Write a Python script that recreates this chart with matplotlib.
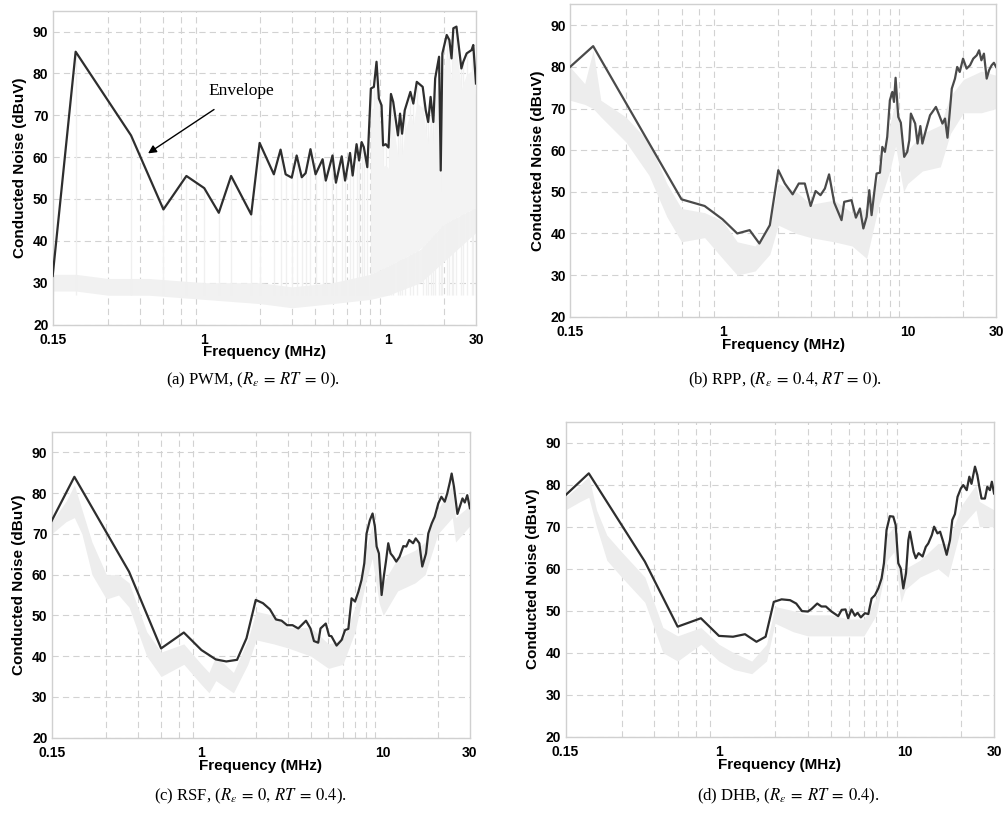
import numpy as np
import matplotlib
matplotlib.use("Agg")
import matplotlib.pyplot as plt
from matplotlib.ticker import FixedLocator, NullFormatter

plt.rcParams['font.family'] = ['Liberation Sans', 'DejaVu Sans']
plt.rcParams['mathtext.fontset'] = 'stix'
plt.rcParams['lines.scale_dashes'] = False

# ---------------- data ----------------
# (a) PWM envelope
freq_a = [0.15, 0.2, 0.4, 0.6, 0.8, 1.0, 1.2, 1.4, 1.8, 2.0, 2.39, 2.6, 2.77, 2.99, 3.18, 3.39, 3.56, 3.78,
          4.03, 4.4, 4.58, 4.98, 5.2, 5.59, 5.83, 6.2, 6.41, 6.73, 6.95, 7.17, 7.37, 7.7, 8.05, 8.36, 8.64,
          8.9, 9.2, 9.38, 9.7, 10.04, 10.35, 10.65, 11.3, 11.6, 11.9, 12.3, 13.2, 13.7, 14.3, 15.4, 16.0,
          16.5, 17.0, 17.6, 18.0, 18.9, 19.3, 19.7, 20.8, 21.5, 22.1, 22.6, 23.5, 25.0, 25.6, 26.7, 28.4,
          29.0, 30.0]
env_a = [31.6, 85.2, 65.2, 47.5, 55.5, 52.6, 46.7, 55.5, 46.3, 63.4, 55.9, 61.8, 55.9, 55.1, 60.4, 55.2, 56.2,
         61.9, 55.9, 59.5, 54.4, 60.4, 53.9, 60.2, 54.4, 61.0, 55.6, 63.1, 59.2, 63.6, 62.4, 57.6, 76.4, 76.8,
         82.8, 74.0, 72.4, 62.8, 63.1, 62.3, 75.1, 73.2, 65.2, 70.4, 65.6, 71.2, 75.6, 72.8, 78.0, 76.8, 71.2,
         68.4, 74.4, 68.4, 78.8, 84.0, 56.8, 84.8, 89.2, 88.0, 83.6, 90.8, 91.2, 81.2, 82.8, 84.8, 85.6, 86.8,
         77.6]
gray_f_a = [0.15, 0.2, 0.3, 0.5, 1.0, 2.0, 3.0, 5.0, 8.0, 10.0, 15.0, 20.0, 30.0]
gray_lo_a = [28, 28, 27, 27, 26, 25, 24, 25, 26, 27, 30, 35, 42]
gray_hi_a = [32, 32, 31, 31, 30, 30, 29, 30, 32, 34, 38, 44, 48]

# (b) RPP envelope
freq_b = [0.15, 0.2, 0.6, 0.8, 1.0, 1.2, 1.4, 1.58, 1.8, 2.0, 2.17, 2.39, 2.58, 2.78, 2.99, 3.18, 3.38, 3.57,
          3.76, 4.01, 4.39, 4.54, 4.97, 5.25, 5.52, 5.76, 6.0, 6.2, 6.38, 6.65, 6.79, 7.08, 7.29, 7.53, 7.75,
          8.01, 8.26, 8.43, 8.6, 8.89, 9.18, 9.57, 9.94, 10.2, 10.4, 10.97, 11.3, 11.7, 12.0, 12.6, 13.2,
          13.6, 14.2, 14.8, 15.4, 15.9, 16.4, 16.9, 17.3, 18.0, 18.5, 19.1, 19.9, 20.8, 21.7, 22.6, 23.6,
          24.3, 25.0, 25.8, 26.7, 27.5, 28.4, 29.2, 30.0]
env_b = [80, 85, 48.2, 46.6, 43.4, 40, 40.8, 37.6, 42, 55.2, 52, 49.4, 52, 52, 46.6, 50.2, 49.2, 50.8,
         54.2, 47.4, 43.2, 47.6, 48, 43.8, 46, 41.2, 44, 50.4, 44.4, 51.2, 54.4, 54.6, 60.8, 59.6, 63.2,
         72, 74, 71.6, 77.4, 68, 66.6, 58.4, 59.6, 62.4, 68.8, 66.4, 61.6, 65.8, 61.6, 65.2, 68.4,
         69.2, 70.4, 68.4, 66.4, 67.6, 63, 69.6, 74.8, 77.2, 80, 78.8, 82, 79.6, 80.4, 82, 82.8,
         84, 81.6, 83.2, 77.2, 79.2, 80.4, 81, 80]
gray_f_b = [0.15, 0.18, 0.2, 0.22, 0.3, 0.4, 0.5, 0.6, 0.8, 1.0, 1.2, 1.5, 1.8, 2.0, 2.5, 3.0, 4.0, 5.0,
            6.0, 7.0, 8.0, 8.6, 9.5, 10.0, 12.0, 15.0, 17.0, 20.0, 25.0, 30.0]
gray_lo_b = [72, 71, 70, 68, 62, 54, 44, 38, 39, 34, 30, 31, 35, 42, 40, 39, 38, 37,
             34, 47, 55, 61, 50, 52, 55, 56, 64, 69, 69, 70]
gray_hi_b = [80, 76, 84, 72, 68, 62, 52, 46, 45, 43, 38, 37, 42, 52, 50, 47, 48, 45,
             46, 54, 66, 72, 60, 60, 64, 66, 73, 77, 79, 78]

# (c) RSF envelope
freq_c = [0.15, 0.2, 0.4, 0.6, 0.8, 1.0, 1.2, 1.37, 1.57, 1.77, 1.99, 2.18, 2.38, 2.57, 2.76, 2.96, 3.17,
          3.41, 3.76, 3.98, 4.16, 4.39, 4.52, 4.83, 5.04, 5.19, 5.54, 5.91, 6.17, 6.43, 6.7, 7.0, 7.3, 7.6,
          7.87, 8.1, 8.45, 8.74, 9.0, 9.2, 9.47, 9.8, 10.1, 10.35, 10.66, 10.98, 11.35, 11.8, 12.3, 12.9,
          13.4, 13.9, 14.6, 15.1, 15.8, 16.4, 17.2, 17.7, 18.5, 19.2, 20.1, 20.9, 21.8, 22.5, 23.3, 23.8,
          24.5, 25.6, 26.4, 27.3, 28.1, 29.0, 30.0]
env_c = [73.2, 84.0, 60.7, 41.9, 45.8, 41.5, 39.2, 38.7, 39.1, 44.4, 53.8, 53.0, 51.5, 49.0, 48.7, 47.6, 47.6,
         46.8, 48.7, 46.8, 43.7, 43.3, 46.8, 48.0, 45.0, 44.9, 42.6, 44.0, 46.4, 46.7, 54.2, 53.4, 55.8, 58.7,
         62.8, 70.1, 73.4, 75.0, 71.8, 66.9, 65.2, 55.0, 59.9, 63.2, 67.7, 65.2, 64.4, 63.2, 64.4, 67.0,
         66.9, 68.5, 67.7, 68.9, 67.7, 62.0, 65.2, 70.1, 72.6, 74.2, 77.5, 79.1, 77.9, 79.9, 82.8, 84.8,
         81.6, 74.9, 76.7, 78.7, 77.7, 79.5, 76.3]
gray_f_c = [0.15, 0.18, 0.2, 0.22, 0.25, 0.3, 0.35, 0.4, 0.5, 0.6, 0.8, 1.0, 1.1, 1.2, 1.5, 1.8, 2.0, 2.5,
            3.0, 4.0, 5.0, 6.0, 7.0, 8.0, 8.7, 9.5, 10.0, 12.0, 15.0, 17.0, 20.0, 24.0, 25.0, 30.0]
gray_lo_c = [70, 73, 74, 70, 60, 54, 55, 52, 40, 35, 38, 33, 31, 34, 31, 38, 44, 43,
             42, 40, 37, 38, 46, 58, 64, 53, 50, 56, 58, 60, 70, 74, 68, 72]
gray_hi_c = [73, 78, 82, 76, 68, 60, 60, 58, 46, 41, 43, 38, 36, 40, 36, 44, 51, 50,
             47, 47, 43, 44, 52, 66, 72, 62, 58, 64, 66, 68, 76, 82, 74, 77]

# (d) DHB envelope
freq_d = [0.15, 0.2, 0.4, 0.6, 0.8, 1.0, 1.19, 1.38, 1.59, 1.78, 1.97, 2.17, 2.41, 2.6, 2.79, 3.0, 3.14,
          3.37, 3.55, 3.75, 4.02, 4.37, 4.56, 4.78, 4.94, 5.15, 5.37, 5.55, 5.78, 6.08, 6.34, 6.6, 6.88,
          7.17, 7.47, 7.69, 7.94, 8.27, 8.63, 8.89, 9.18, 9.46, 9.77, 10.1, 10.4, 10.6, 11.1, 11.4, 11.8,
          12.4, 12.9, 13.3, 13.9, 14.3, 14.9, 15.4, 16.0, 16.7, 17.4, 17.9, 18.5, 19.1, 19.9, 20.5, 21.4,
          22.1, 22.7, 23.7, 24.4, 25.0, 25.7, 26.8, 27.6, 28.5, 29.2, 30.0]
env_d = [77.5, 82.7, 61.7, 46.2, 48.2, 44.0, 43.8, 44.4, 42.6, 43.8, 52.1, 52.7, 52.5, 51.7, 49.9, 49.8, 50.4,
         51.7, 51.0, 51.0, 49.8, 48.7, 50.2, 50.3, 48.2, 50.3, 48.8, 49.5, 48.4, 49.4, 49.2, 52.9, 53.7,
         55.3, 57.7, 61.3, 69.2, 72.5, 72.4, 70.4, 61.3, 60.1, 55.3, 58.9, 66.8, 68.8, 64.0, 62.5, 63.7,
         62.9, 65.2, 66.0, 68.0, 70.0, 68.4, 68.8, 66.4, 63.3, 66.8, 71.6, 73.0, 77.1, 79.1, 79.9, 78.7,
         81.9, 80.2, 84.3, 82.3, 79.5, 76.7, 76.7, 79.5, 78.7, 80.7, 77.9]
gray_f_d = [0.15, 0.18, 0.2, 0.22, 0.25, 0.3, 0.4, 0.5, 0.6, 0.8, 1.0, 1.2, 1.5, 1.8, 2.0, 2.5, 3.0, 4.0,
            5.0, 6.0, 7.0, 8.0, 8.7, 9.5, 10.0, 12.0, 15.0, 17.0, 20.0, 24.0, 25.0, 30.0]
gray_lo_d = [74, 76, 77, 70, 62, 58, 52, 40, 38, 42, 38, 36, 35, 38, 47, 45, 44, 44,
             44, 44, 49, 62, 64, 52, 55, 58, 60, 58, 70, 74, 70, 70]
gray_hi_d = [77, 80, 82, 74, 68, 64, 58, 46, 44, 46, 42, 40, 38, 42, 51, 50, 49, 49,
             48, 48, 53, 68, 70, 58, 60, 62, 66, 66, 75, 80, 76, 74]

xtick_vals = [0.15, 1, 10, 30]
xtick_labels_a = ['0.15', '1', '1', '30']
xtick_labels = ['0.15', '1', '10', '30']
grid_x = [0.3, 0.45, 0.6, 0.75, 0.9, 1, 2, 3, 4, 5, 6, 7, 8, 9, 10, 20]
ytick_vals = [20, 30, 40, 50, 60, 70, 80, 90]

captions = [r'(a) PWM, ($R_\varepsilon\:=\:RT\:=\:0$).',
            r'(b) RPP, ($R_\varepsilon\:=\:0.4,\,RT\:=\:0$).',
            r'(c) RSF, ($R_\varepsilon\:=\:0,\,RT\:=\:0.4$).',
            r'(d) DHB, ($R_\varepsilon\:=\:RT\:=\:0.4$).']

# ---------------- figure ----------------
fig = plt.figure(figsize=(10.05, 8.18), dpi=100)

rects = [(0.0524, 0.6033, 0.4212, 0.3836),
         (0.5672, 0.6128, 0.4239, 0.3817),
         (0.0514, 0.0982, 0.4162, 0.3737),
         (0.5627, 0.0994, 0.4264, 0.3851)]

GRAY = '#ededed'
grid_kw = dict(color='#d2d2d2', linestyle=(0, (4.5, 3.0)), linewidth=0.8)


def style_axes(ax, labels):
    ax.set_xscale('log')
    ax.set_xlim(0.15, 30)
    ax.set_ylim(20, 95)
    ax.xaxis.set_major_locator(FixedLocator(xtick_vals))
    ax.set_xticklabels(labels)
    ax.xaxis.set_minor_locator(FixedLocator(grid_x))
    ax.xaxis.set_minor_formatter(NullFormatter())
    ax.set_yticks(ytick_vals)
    ax.grid(False)
    ax.grid(True, which='minor', axis='x', **grid_kw)
    ax.grid(True, which='major', axis='y', **grid_kw)
    ax.tick_params(which='both', length=0, labelsize=10)
    ax.tick_params(axis='x', pad=6)
    ax.tick_params(axis='y', pad=3)
    for lab in ax.get_xticklabels() + ax.get_yticklabels():
        lab.set_fontweight('bold')
    for sp in ax.spines.values():
        sp.set_color('#d0d0d0')
        sp.set_linewidth(1.0)
    ax.set_xlabel('Frequency (MHz)', fontsize=11, fontweight='bold', labelpad=-1)
    ax.set_ylabel('Conducted Noise (dBuV)', fontsize=11, fontweight='bold', labelpad=4)
    ax.set_axisbelow(True)


axes = [fig.add_axes(r) for r in rects]

# (a)
ax = axes[0]
style_axes(ax, xtick_labels_a)
ax.fill_between(gray_f_a, gray_lo_a, gray_hi_a, color='#f1f1f1', lw=0, zorder=1)
ax.vlines(freq_a, 27, env_a, color='#f0f0f0', lw=1.0, zorder=1)
fa = np.array(freq_a)
ea = np.array(env_a)
m = fa >= 8
ax.fill_between(fa[m], np.interp(np.log(fa[m]), np.log(gray_f_a), gray_hi_a), ea[m] - 5,
                color='#f3f3f3', lw=0, zorder=1)
ax.plot(freq_a, env_a, color='#2e2e2e', lw=1.6, zorder=3)
ax.annotate('Envelope', xy=(0.495, 60.9), xytext=(1.6, 75.8),
            fontsize=12.5, family=['Liberation Serif', 'DejaVu Serif'],
            ha='center', va='center',
            arrowprops=dict(arrowstyle='-|>', color='black', lw=1.0,
                            mutation_scale=12, shrinkA=10, shrinkB=0))

# (b)
ax = axes[1]
style_axes(ax, xtick_labels)
ax.fill_between(gray_f_b, gray_lo_b, gray_hi_b, color=GRAY, lw=0, zorder=1)
ax.plot(freq_b, env_b, color='#4a4a4a', lw=1.6, zorder=3)

# (c)
ax = axes[2]
style_axes(ax, xtick_labels)
ax.fill_between(gray_f_c, gray_lo_c, gray_hi_c, color=GRAY, lw=0, zorder=1)
ax.plot(freq_c, env_c, color='#2e2e2e', lw=1.6, zorder=3)

# (d)
ax = axes[3]
style_axes(ax, xtick_labels)
ax.fill_between(gray_f_d, gray_lo_d, gray_hi_d, color=GRAY, lw=0, zorder=1)
ax.plot(freq_d, env_d, color='#2e2e2e', lw=1.6, zorder=3)

cap_pos = [(253 / 1005, 1 - 380 / 818), (785 / 1005, 1 - 380 / 818),
           (250 / 1005, 1 - 796 / 818), (788 / 1005, 1 - 796 / 818)]
for (x, y), txt in zip(cap_pos, captions):
    fig.text(x, y, txt, ha='center', va='center', fontsize=12,
             family=['Liberation Serif', 'DejaVu Serif'])

fig.savefig('out.png', dpi=100)
